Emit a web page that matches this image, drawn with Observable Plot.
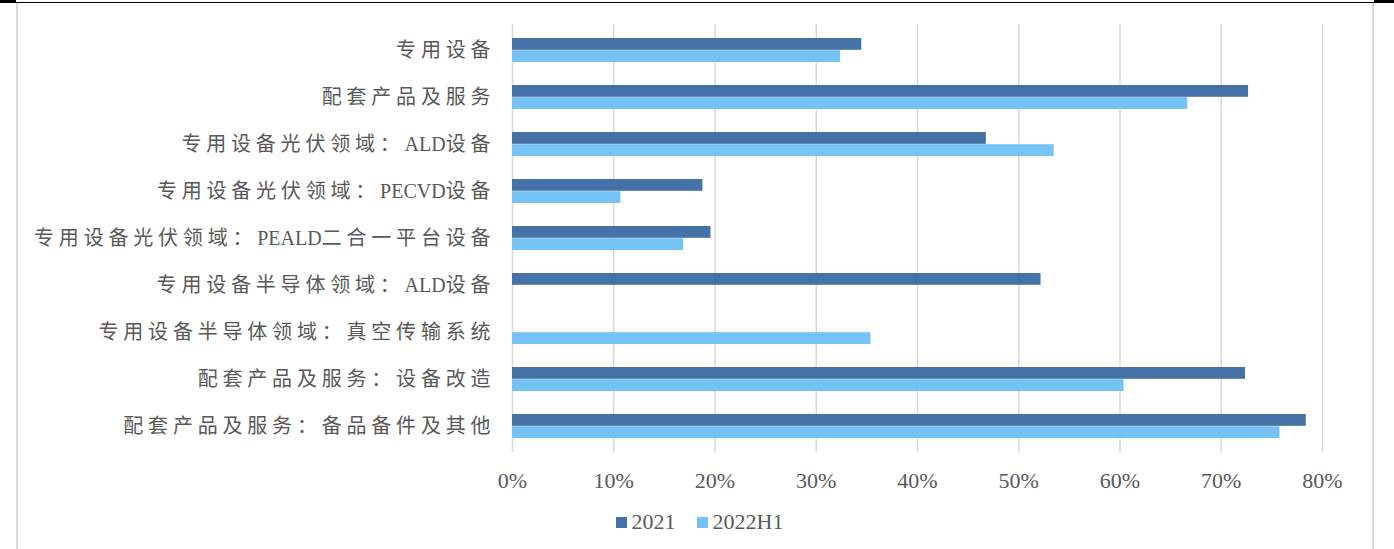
<!DOCTYPE html>
<html>
<head>
<meta charset="utf-8">
<script src="https://cdn.jsdelivr.net/npm/d3@7"></script>
<script src="https://cdn.jsdelivr.net/npm/@observablehq/plot@0.6"></script>
<style>
  html, body { margin: 0; padding: 0; background: #fff; }
  #wrap { position: relative; width: 1394px; height: 549px; overflow: hidden; background: #fff; }
  #topline { position: absolute; left: 0; top: 2px; width: 1394px; height: 1px; background: #000; }
  #tl { position: absolute; left: 0; top: 0; width: 16px; height: 3px; background: #000; }
  #tr { position: absolute; left: 1374px; top: 0; width: 20px; height: 3px; background: #000; }
  #lb { position: absolute; left: 16px; top: 3px; width: 2px; height: 546px; background: #d9d9d9; }
  #rb { position: absolute; left: 1372px; top: 3px; width: 2px; height: 546px; background: #d9d9d9; }
  #chart { position: absolute; left: 0; top: 0; }
  .lg-swatches { justify-content: center; padding-left: 5px; font-family: "Liberation Serif", serif; font-size: 22px; color: #595959; margin: 0 !important; min-height: 34px !important; }
  .lg-swatch { margin-right: 21px !important; }
  .lg-swatch:last-child { margin-right: 0 !important; }
  .lg-swatch > svg { margin-right: 5px !important; }
</style>
</head>
<body>
<div id="wrap">
  <div id="chart"></div>
  <div id="topline"></div><div id="tl"></div><div id="tr"></div>
  <div id="lb"></div><div id="rb"></div>
</div>
<script>
const categories = [
  "专用设备",
  "配套产品及服务",
  "专用设备光伏领域：ALD设备",
  "专用设备光伏领域：PECVD设备",
  "专用设备光伏领域：PEALD二合一平台设备",
  "专用设备半导体领域：ALD设备",
  "专用设备半导体领域：真空传输系统",
  "配套产品及服务：设备改造",
  "配套产品及服务：备品备件及其他"
];
const series = ["2021", "2022H1"];
const values2021 = [0.345, 0.727, 0.468, 0.188, 0.196, 0.522, null, 0.724, 0.784];
const values2022H1 = [0.324, 0.667, 0.535, 0.107, 0.169, null, 0.354, 0.604, 0.758];
const xTicks = [0, 0.1, 0.2, 0.3, 0.4, 0.5, 0.6, 0.7, 0.8];
const colors = ["#4472a6", "#75c3f4"];

const rows2021 = categories.map((c, i) => ({category: c, series: "2021", value: values2021[i]})).filter(d => d.value != null);
const rows2022 = categories.map((c, i) => ({category: c, series: "2022H1", value: values2022H1[i]})).filter(d => d.value != null);

const half = 12.2;

const plot = Plot.plot({
  width: 1394,
  height: 505,
  marginLeft: 512,
  marginRight: 72,
  marginTop: 24,
  marginBottom: 53,
  style: { fontFamily: "Liberation Serif, serif", fontSize: "22px", color: "#595959", background: "transparent" },
  x: { domain: [0, 0.8], axis: null, label: null },
  y: { domain: categories, paddingInner: 0.485, paddingOuter: 0.225, axis: null, label: null },
  color: { domain: series, range: colors },
  marks: [
    Plot.gridX(xTicks, { stroke: "#d9d9d9", strokeOpacity: 1, strokeWidth: 1.5 }),
    Plot.barX(rows2021, { x: "value", y: "category", fill: "series", insetBottom: half }),
    Plot.barX(rows2022, { x: "value", y: "category", fill: "series", insetTop: half }),
    Plot.axisX(xTicks, { tickSize: 0, tickPadding: 20, tickFormat: d3.format(".0%"), fontSize: 22, label: null }),
    Plot.axisY({ tickSize: 0, tickPadding: 17.2, label: null, dy: -1 })
  ]
});

// Mixed-script y labels: CJK in Noto Sans CJK with slight spacing, Latin in serif
d3.select(plot).selectAll('g[aria-label="y-axis tick label"] text').each(function() {
  const t = d3.select(this);
  const label = t.text();
  t.text("");
  const runs = label.match(/[\u0000-\u00ff]+|[^\u0000-\u00ff]+/g) || [];
  runs.forEach(r => {
    const cjk = /[^\u0000-\u00ff]/.test(r);
    t.append("tspan")
      .attr("font-family", cjk ? "'Noto Sans CJK SC', sans-serif" : "'Liberation Serif', serif")
      .attr("font-size", 20)
      .attr("letter-spacing", cjk ? 4.8 : 0)
      .text(r);
  });
});

const legend = Plot.legend({
  color: { domain: series, range: colors },
  legend: "swatches",
  swatchSize: 11,
  className: "lg"
});

const chart = document.getElementById("chart");
chart.appendChild(plot);
chart.appendChild(legend);
</script>
</body>
</html>
